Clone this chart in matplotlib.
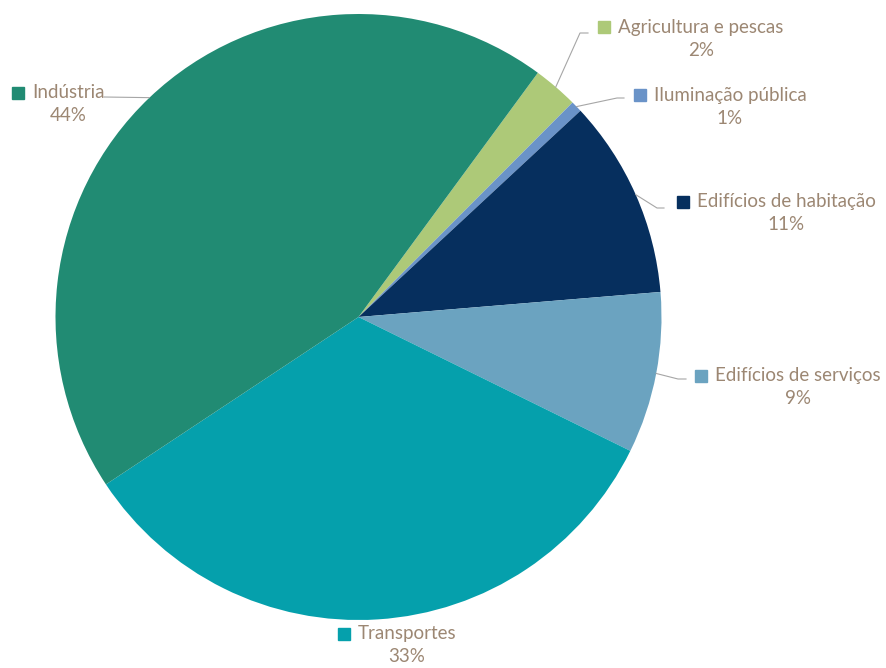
import matplotlib
matplotlib.use("Agg")
import matplotlib.pyplot as plt
import numpy as np

# energy consumption share by sector (%)
sectors = [
    "Agricultura e pescas",
    "Iluminação pública",
    "Edifícios de habitação",
    "Edifícios de serviços",
    "Transportes",
    "Indústria",
]
shares = [2.4, 0.6, 10.6, 8.6, 33.4, 44.4]
pct_labels = ["2%", "1%", "11%", "9%", "33%", "44%"]
colors = ["#ADC978", "#6A93C8", "#062F5E", "#6BA3C0", "#05A0AC", "#218B73"]

TEXT_COLOR = "#9C8773"
LINE_COLOR = "#A6A6A6"
FONT_SIZE = 13.5

W, H = 887, 668
CX, CY, R = 358.5, 317.0, 303.0   # pie centre / radius in pixels


def to_data(px, py):
    return (px - CX) / R, (CY - py) / R


# label layout: name centre (px) and optional leader elbow (px)
label_pos = {
    "Agricultura e pescas": ((701, 27), [(580, 33), (588, 33)]),
    "Iluminação pública": ((730, 95), [(617, 98), (624, 98)]),
    "Edifícios de habitação": ((786, 202), [(657, 208), (664, 208)]),
    "Edifícios de serviços": ((798, 376), [(678, 379), (686, 379)]),
    "Transportes": ((407, 634), None),
    "Indústria": ((68, 93), [(104, 97)]),
}

fig = plt.figure(figsize=(W / 100, H / 100), dpi=100)
ax = fig.add_axes([0, 0, 1, 1])

wedges, _ = ax.pie(
    shares,
    colors=colors,
    startangle=90 - 36.3,
    counterclock=False,
    radius=1.0,
    center=(0, 0),
    wedgeprops=dict(linewidth=0),
)

# pie() resets the limits, so fix the view afterwards
ax.set_xlim(-CX / R, (W - CX) / R)
ax.set_ylim(-(H - CY) / R, CY / R)
ax.set_aspect("equal")
ax.axis("off")

fig.canvas.draw()
renderer = fig.canvas.get_renderer()

for wedge, name, pct, col in zip(wedges, sectors, pct_labels, colors):
    (lx, ly), elbow = label_pos[name]
    tx, ty = to_data(lx, ly)
    t = ax.text(tx, ty, name, ha="center", va="center", fontsize=FONT_SIZE,
                color=TEXT_COLOR, family="Lato")
    px_, py_ = to_data(lx, ly + 23)
    ax.text(px_, py_, pct, ha="center", va="center", fontsize=FONT_SIZE,
            color=TEXT_COLOR, family="Lato")

    # legend-style square to the left of the name
    bb = t.get_window_extent(renderer)
    sx, sy = to_data(bb.x0 - 14, ly)
    ax.plot(sx, sy, marker="s", markersize=8, color=col, linestyle="none")

    if elbow:
        mid = np.deg2rad((wedge.theta1 + wedge.theta2) / 2)
        pts = [(np.cos(mid), np.sin(mid))] + [to_data(x, y) for x, y in elbow]
        xs, ys = zip(*pts)
        ax.plot(xs, ys, color=LINE_COLOR, linewidth=0.8)

fig.savefig("out.png", dpi=100)
